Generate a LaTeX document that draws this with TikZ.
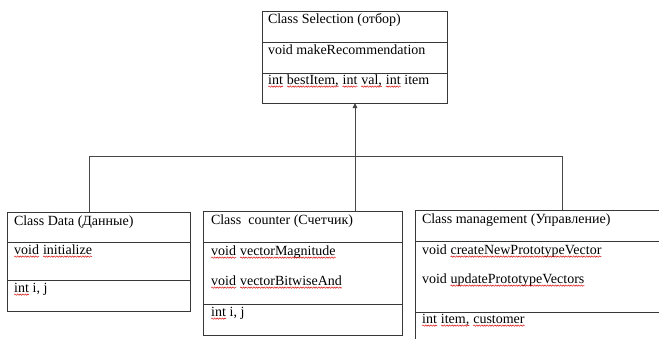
\documentclass[tikz,border=0pt]{standalone}
\usepackage{fontspec}
\setmainfont{Liberation Serif}
\usetikzlibrary{arrows.meta,decorations.pathmorphing}
\tikzset{
  boxline/.style={draw=black!78, line width=0.9pt},
  umlbox/.style={boxline, rectangle, anchor=north west, inner sep=0pt, outer sep=0pt},
  lbl/.style={anchor=base west, inner sep=0pt, outer sep=0pt, font=\fontsize{14}{16}\selectfont},
  conn/.style={draw=black!72, line width=0.9pt},
}
\newcommand\squig[1]{\tikz[baseline=(w.base)]{\node[inner sep=0pt,outer sep=0pt](w){#1};\draw[red!85!black, line width=0.45pt, decorate, decoration={snake,amplitude=0.7pt,segment length=2.6pt}] ([yshift=-2.6pt]w.base west) -- ([yshift=-2.6pt]w.base east);}}
\begin{document}
\begin{tikzpicture}[x=1pt,y=-1pt]
\useasboundingbox (0,0) rectangle (659,338);
\fill[white] (0,0) rectangle (659,338);

% Selection
\node[umlbox, minimum width=185pt, minimum height=92pt] (sel) at (262,11) {};
\draw[boxline] (262,42) -- (447,42);
\draw[boxline] (262,73) -- (447,73);
\node[lbl] (sel1) at (268,23) {Class Selection (отбор)};
\node[lbl] (sel2) at (268,54) {void makeRecommendation};
\node[lbl] (sel3) at (268,84) {\squig{int} \squig{bestItem,} \squig{int} \squig{val,} \squig{int} item};

% Data
\node[umlbox, minimum width=183pt, minimum height=99pt] (data) at (7,212) {};
\draw[boxline] (7,242) -- (190,242);
\draw[boxline] (7,280) -- (190,280);
\node[lbl] (data1) at (14,225) {Class Data (Данные)};
\node[lbl] (data2) at (14,254) {\squig{void} \squig{initialize}};
\node[lbl] (data3) at (14,292) {\squig{int} i, j};

% Counter
\node[umlbox, minimum width=199pt, minimum height=124pt] (cnt) at (203,211) {};
\draw[boxline] (203,242) -- (402,242);
\draw[boxline] (203,304) -- (402,304);
\node[lbl] (cnt1) at (211,224) {Class\ \ counter (Счетчик)};
\node[lbl] (cnt2) at (211,255) {\squig{void} \squig{vectorMagnitude}};
\node[lbl] (cnt3) at (211,285) {\squig{void} \squig{vectorBitwiseAnd}};
\node[lbl] (cnt4) at (211,316) {\squig{int} i, j};

% Management (clipped by the picture edges)
\begin{scope}
\clip (0,0) rectangle (659,338);
\node[umlbox, minimum width=270pt, minimum height=150pt] (mgmt) at (415,210) {};
\draw[boxline] (415,241) -- (680,241);
\draw[boxline] (415,312) -- (680,312);
\end{scope}
\node[lbl] (mg1) at (422,223) {Class management (Управление)};
\node[lbl] (mg2) at (422,254) {void \squig{createNewPrototypeVector}};
\node[lbl] (mg3) at (422,283) {void \squig{updatePrototypeVectors}};
\node[lbl] (mg4) at (422,323) {\squig{int} \squig{item,} \squig{customer}};

% Connectors
\coordinate (hl) at (89,156);
\coordinate (hr) at (562,156);
\coordinate (hj) at (355,156);
\draw[conn] (data.north -| hl) -- (hl) -- (hr) -- (mgmt.north -| hr);
\draw[conn, -{Triangle[length=5pt,width=4.5pt]}] (cnt.north -| hj) -- (sel.south -| hj);
\end{tikzpicture}
\end{document}
